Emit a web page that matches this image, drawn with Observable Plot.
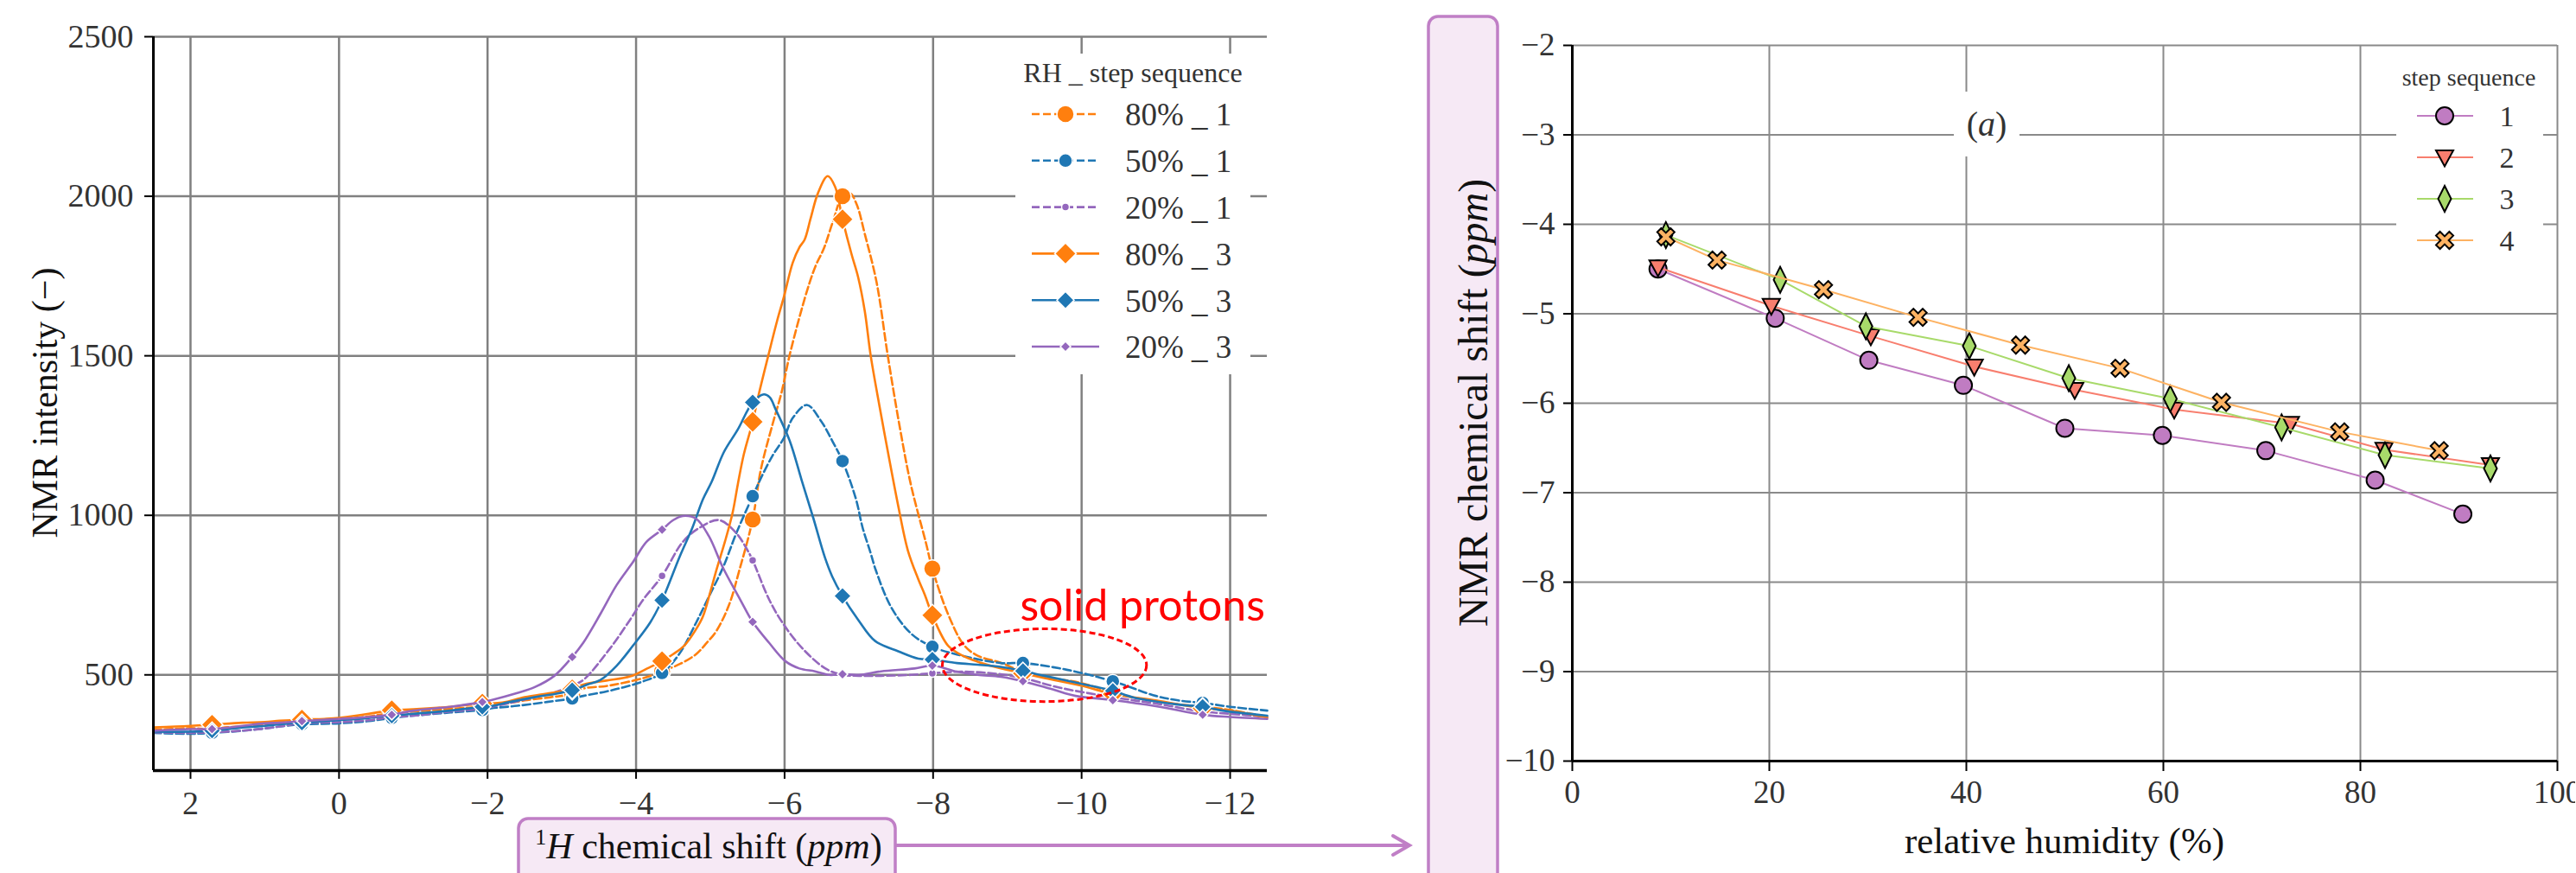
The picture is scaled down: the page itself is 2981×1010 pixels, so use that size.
<!DOCTYPE html>
<html><head><meta charset="utf-8">
<script src="https://cdn.jsdelivr.net/npm/d3@7"></script>
<script src="https://cdn.jsdelivr.net/npm/@observablehq/plot@0.6"></script>
<style>
html,body{margin:0;padding:0;background:#fff;overflow:hidden;}
#wrap{position:relative;width:2981px;height:1010px;overflow:hidden;background:#fff;}
#wrap > svg{position:absolute;}
</style></head><body><div id="wrap"></div>
<script>
// ---------------- LEFT CHART DATA (1H chemical shift in ppm, NMR intensity) ----------------
const shiftTicks = [2, 0, -2, -4, -6, -8, -10, -12];
const intensityTicks = [500, 1000, 1500, 2000, 2500];
const markerShift = [1.71, 0.50, -0.71, -1.93, -3.14, -4.35, -5.57, -6.78, -7.99, -9.21, -10.42, -11.63];

const s80_1 = [[2.5,328],[2.2,331],[2.0,333],[1.5,336],[1.3,338],[1.0,345],[0.8,350],[0.2,357],[0,360],[-0.4,370],[-1.0,385],[-1.3,390],[-1.6,395],[-2.2,408],[-2.5,420],[-2.85,430],[-3.29,457],[-3.6,465],[-3.83,475],[-4.1,490],[-4.59,534],[-4.81,565],[-4.95,600],[-5.08,637],[-5.25,718],[-5.39,827],[-5.68,1143],[-5.84,1287],[-5.96,1386],[-6.07,1504],[-6.30,1702],[-6.42,1783],[-6.53,1837],[-6.65,1920],[-6.88,2010],[-6.97,1975],[-7.08,1882],[-7.24,1729],[-7.39,1500],[-7.55,1278],[-7.70,1097],[-7.90,917],[-8.2,691],[-8.42,592],[-8.6,560],[-8.91,538],[-9.6,490],[-9.98,475],[-10.7,429],[-11.2,410],[-12.0,390],[-12.5,368]];
const m80_1 = [330, 355, 380, 400, 440, 511, 987, 2000, 833, 510, 445, 400];

const s50_1 = [[2.5,318],[2.0,315],[1.3,325],[1.0,332],[0.8,338],[0,348],[-0.4,355],[-1.0,372],[-1.5,382],[-2.05,395],[-2.4,403],[-2.8,415],[-3.29,434],[-3.6,448],[-3.83,461],[-4.1,480],[-4.58,565],[-4.81,664],[-4.98,745],[-5.17,836],[-5.35,944],[-5.68,1116],[-5.84,1188],[-5.99,1242],[-6.11,1305],[-6.30,1346],[-6.49,1296],[-6.65,1230],[-6.96,1052],[-7.05,962],[-7.16,881],[-7.23,827],[-7.44,710],[-7.71,628],[-8.32,564],[-8.91,537],[-9.8,516],[-11.0,434],[-11.3,420],[-12.0,400],[-12.5,388]];
const m50_1 = [318, 345, 365, 390, 426, 506, 1060, 1170, 588, 537, 480, 412];

const s20_1 = [[2.5,320],[2.0,318],[1.3,325],[1.0,332],[0.8,338],[0,352],[-0.4,358],[-1.0,372],[-1.5,385],[-2.3,412],[-2.63,430],[-2.9,445],[-3.29,484],[-3.65,583],[-3.92,673],[-4.10,737],[-4.63,917],[-4.86,962],[-5.12,985],[-5.35,944],[-5.48,899],[-5.79,737],[-5.97,664],[-6.24,583],[-6.55,520],[-7.0,497],[-7.30,497],[-7.7,500],[-8.4,510],[-8.91,502],[-9.7,460],[-11.0,410],[-12.0,378],[-12.5,368]];
const m20_1 = [320, 348, 368, 395, 466, 810, 859, 500, 505, 490, 430, 385];

const s80_3 = [[2.5,335],[2.2,338],[2.0,340],[1.3,350],[1.0,352],[0.8,356],[0.2,362],[0,365],[-0.4,378],[-1.0,392],[-1.5,400],[-2.2,413],[-2.5,430],[-2.85,443],[-3.3,470],[-3.6,482],[-3.92,495],[-4.15,520],[-4.5,565],[-4.65,592],[-4.8,640],[-4.9,683],[-5.0,760],[-5.08,827],[-5.2,920],[-5.3,1008],[-5.37,1097],[-5.45,1190],[-5.65,1377],[-5.78,1500],[-5.9,1610],[-5.99,1684],[-6.11,1792],[-6.2,1840],[-6.27,1864],[-6.35,1930],[-6.45,2010],[-6.58,2063],[-6.68,2030],[-6.9,1820],[-6.99,1747],[-7.08,1640],[-7.16,1500],[-7.28,1340],[-7.40,1188],[-7.53,1030],[-7.66,890],[-7.8,800],[-7.89,750],[-8.2,592],[-8.4,560],[-8.64,538],[-8.9,521],[-9.5,490],[-10.0,466],[-11.0,420],[-12.0,388],[-12.5,366]];
const m80_3 = [344, 360, 389, 410, 455, 543, 1293, 1928, 687, 505, 440, 395];

const s50_3 = [[2.5,322],[2.0,322],[1.3,335],[1.0,340],[0.8,345],[0,358],[-0.4,365],[-1.0,378],[-1.5,388],[-2.05,402],[-2.3,415],[-2.63,430],[-2.9,440],[-3.35,470],[-3.52,484],[-3.74,529],[-3.96,592],[-4.19,664],[-4.59,872],[-4.76,962],[-4.90,1050],[-5.02,1106],[-5.18,1197],[-5.37,1269],[-5.72,1379],[-5.8,1370],[-5.88,1332],[-6.07,1233],[-6.23,1110],[-6.39,989],[-6.54,870],[-6.64,809],[-6.99,673],[-7.22,606],[-7.53,574],[-7.80,551],[-8.32,537],[-8.6,532],[-8.91,525],[-9.5,497],[-10.1,467],[-10.7,429],[-11.3,407],[-11.9,388],[-12.5,372]];
const m50_3 = [325, 350, 372, 400, 452, 734, 1354, 747, 548, 512, 450, 400];

const s20_3 = [[2.5,325],[2.0,330],[1.3,340],[1.0,348],[0.8,350],[0,362],[-0.4,368],[-1.0,388],[-1.5,400],[-2.05,421],[-2.4,443],[-2.63,461],[-2.90,497],[-3.29,601],[-3.52,691],[-3.74,782],[-3.96,854],[-4.14,917],[-4.5,985],[-4.63,998],[-4.81,989],[-4.98,935],[-5.17,836],[-5.40,737],[-5.79,601],[-6.01,543],[-6.2,520],[-6.41,511],[-6.6,500],[-7.0,500],[-7.30,511],[-7.75,520],[-8.32,510],[-8.6,500],[-8.91,494],[-9.6,455],[-9.92,434],[-11.0,402],[-12.0,368],[-12.5,362]];
const m20_3 = [330, 355, 375, 415, 556, 955, 666, 502, 529, 480, 421, 375];

// annotation (data coordinates)
const solidLabel = [{shift: -10.82, intensity: 670, text: "solid protons"}];
const solidEllipse = {shift: -9.505, intensity: 529, halfShift: 1.375, halfIntensity: 114};

// ---------------- RIGHT CHART DATA (relative humidity %, NMR chemical shift ppm) ----------------
const rhTicks = [0, 20, 40, 60, 80, 100];
const nmrTicks = [-2, -3, -4, -5, -6, -7, -8, -9, -10];
const rh1 = [8.7, 20.6, 30.1, 39.7, 50.0, 59.9, 70.4, 81.5, 90.4];
const ns1 = [-4.50, -5.05, -5.52, -5.80, -6.28, -6.36, -6.53, -6.86, -7.24];
const rh2 = [8.7, 20.2, 30.3, 40.8, 51.0, 61.1, 72.9, 82.4, 93.2];
const ns2 = [-4.48, -4.91, -5.25, -5.59, -5.85, -6.07, -6.23, -6.52, -6.69];
const rh3 = [9.5, 21.1, 29.8, 40.3, 50.4, 60.7, 72.0, 82.5, 93.2];
const ns3 = [-4.12, -4.62, -5.14, -5.36, -5.72, -5.95, -6.27, -6.58, -6.73];
const rh4 = [9.5, 14.7, 25.5, 35.1, 45.5, 55.6, 65.9, 77.9, 88.0];
const ns4 = [-4.14, -4.40, -4.73, -5.04, -5.35, -5.61, -5.99, -6.32, -6.53];

// ---------------- symbols ----------------
const rOf = size => Math.sqrt(size / Math.PI);
const symDiamondSq = {draw(c, size){const r = rOf(size); c.moveTo(0,-r); c.lineTo(r,0); c.lineTo(0,r); c.lineTo(-r,0); c.closePath();}};
const symThinDiamond = {draw(c, size){const r = rOf(size); c.moveTo(0,-1.5*r); c.lineTo(0.75*r,0); c.lineTo(0,1.5*r); c.lineTo(-0.75*r,0); c.closePath();}};
const symTriDown = {draw(c, size){const r = rOf(size); c.moveTo(-r,-0.8*r); c.lineTo(r,-0.8*r); c.lineTo(0,1.05*r); c.closePath();}};
const symX = {draw(c, size){
  const r = rOf(size), L = r*Math.SQRT2/1.3, w = 0.3*L;
  const p = [[-w,-L],[w,-L],[w,-w],[L,-w],[L,w],[w,w],[w,L],[-w,L],[-w,w],[-L,w],[-L,-w],[-w,-w]]
    .map(([x,y]) => [(x-y)/Math.SQRT2, (x+y)/Math.SQRT2]);
  c.moveTo(p[0][0], p[0][1]); for (let i = 1; i < p.length; i++) c.lineTo(p[i][0], p[i][1]); c.closePath();
}};

const fmt = d => d < 0 ? "\u2212" + Math.abs(d) : String(d);
const SERIF = "Liberation Serif";

// ---------------- LEFT PLOT ----------------
const ORANGE = "#ff7f0e", BLUE = "#1f77b4", PURPLE = "#9467bd";
const leftSeries = [
  {key: "80% _ 1", samples: s80_1, mk: m80_1, color: ORANGE, dash: "9,4", sym: "circle", r: 10},
  {key: "50% _ 1", samples: s50_1, mk: m50_1, color: BLUE, dash: "9,4", sym: "circle", r: 8},
  {key: "20% _ 1", samples: s20_1, mk: m20_1, color: PURPLE, dash: "9,4", sym: "circle", r: 4.5},
  {key: "80% _ 3", samples: s80_3, mk: m80_3, color: ORANGE, dash: null, sym: symDiamondSq, r: 12.5},
  {key: "50% _ 3", samples: s50_3, mk: m50_3, color: BLUE, dash: null, sym: symDiamondSq, r: 10},
  {key: "20% _ 3", samples: s20_3, mk: m20_3, color: PURPLE, dash: null, sym: symDiamondSq, r: 6}
];
leftSeries.forEach(S => {
  S.markers = markerShift.map((s, i) => ({s, v: S.mk[i]}));
  S.pts = S.samples.map(([s, v]) => ({s, v})).concat(S.markers).sort((a, b) => b.s - a.s);
});

const leftMarks = [
  Plot.gridX(shiftTicks, {stroke: "#808080", strokeOpacity: 1, strokeWidth: 2.5}),
  Plot.gridY(intensityTicks, {stroke: "#808080", strokeOpacity: 1, strokeWidth: 2.5})
];
leftSeries.forEach(S => {
  leftMarks.push(Plot.line(S.pts, {x: "s", y: "v", stroke: S.color, strokeWidth: 2.6, strokeDasharray: S.dash || undefined, curve: "catmull-rom"}));
  leftMarks.push(Plot.dot(S.markers, {x: "s", y: "v", r: S.r, symbol: S.sym, fill: S.color, stroke: "white", strokeWidth: 1.5}));
});
leftMarks.push(
  Plot.ruleX([2.5], {stroke: "black", strokeWidth: 3}),
  Plot.ruleY([200], {stroke: "black", strokeWidth: 3.5}),
  Plot.axisX(shiftTicks, {tickSize: 10, tickPadding: 14, tickFormat: fmt, label: null, stroke: "black", strokeWidth: 2, fill: "#333", fontSize: 38, fontFamily: SERIF}),
  Plot.axisY(intensityTicks, {tickSize: 10, tickPadding: 13, tickFormat: fmt, label: null, stroke: "black", strokeWidth: 2, fill: "#333", fontSize: 38, fontFamily: SERIF}),
  Plot.text(solidLabel, {x: "shift", y: "intensity", text: "text", fill: "#ff0000", fontSize: 50, fontFamily: "Lato", textAnchor: "middle", lineAnchor: "bottom"})
);

const left = Plot.plot({
  width: 1500, height: 1010,
  marginLeft: 177, marginRight: 34, marginTop: 42, marginBottom: 119,
  x: {domain: [2.5, -12.5]},
  y: {domain: [200, 2500]},
  style: {fontFamily: SERIF, fontSize: "38px", background: "transparent"},
  marks: leftMarks
});
left.style.left = "0px"; left.style.top = "0px";
document.getElementById("wrap").appendChild(left);
d3.select(left).selectAll('g[aria-label$="tick label"]').attr("font-family", SERIF).selectAll("text").attr("font-family", SERIF);

// ellipse around the solid protons region, placed with the plot's own scales
{
  const sx = left.scale("x"), sy = left.scale("y");
  const cx = sx.apply(solidEllipse.shift), cy = sy.apply(solidEllipse.intensity);
  const rx = Math.abs(sx.apply(solidEllipse.shift + solidEllipse.halfShift) - cx);
  const ry = Math.abs(sy.apply(solidEllipse.intensity + solidEllipse.halfIntensity) - cy);
  d3.select(left).append("ellipse").attr("cx", cx).attr("cy", cy).attr("rx", rx).attr("ry", ry)
    .attr("fill", "none").attr("stroke", "#ff0000").attr("stroke-width", 3).attr("stroke-dasharray", "7,4");
}

// ---------------- RIGHT PLOT ----------------
const rightSeries = [
  {key: "1", x: rh1, y: ns1, color: "#c07cc2", sym: "circle", r: 10},
  {key: "2", x: rh2, y: ns2, color: "#f87e6e", sym: symTriDown, r: 10},
  {key: "3", x: rh3, y: ns3, color: "#a8da6a", sym: symThinDiamond, r: 10},
  {key: "4", x: rh4, y: ns4, color: "#fdb262", sym: symX, r: 10}
];
const rightMarks = [
  Plot.gridX(rhTicks, {stroke: "#8a8a8a", strokeOpacity: 1, strokeWidth: 2}),
  Plot.gridY(nmrTicks, {stroke: "#8a8a8a", strokeOpacity: 1, strokeWidth: 2})
];
rightSeries.forEach(S => {
  const pts = S.x.map((x, i) => ({x, y: S.y[i]}));
  rightMarks.push(Plot.line(pts, {x: "x", y: "y", stroke: S.color, strokeWidth: 2}));
  rightMarks.push(Plot.dot(pts, {x: "x", y: "y", r: S.r, symbol: S.sym, fill: S.color, stroke: "black", strokeWidth: 2}));
});
rightMarks.push(
  Plot.ruleX([0], {stroke: "black", strokeWidth: 3}),
  Plot.ruleY([-10], {stroke: "black", strokeWidth: 3}),
  Plot.axisX(rhTicks, {tickSize: 12, tickPadding: 10, tickFormat: fmt, label: null, stroke: "black", strokeWidth: 2, fill: "#333", fontSize: 37, fontFamily: SERIF}),
  Plot.axisY(nmrTicks, {tickSize: 10, tickPadding: 10, tickFormat: fmt, label: null, stroke: "black", strokeWidth: 2, fill: "#333", fontSize: 37, fontFamily: SERIF})
);
const right = Plot.plot({
  width: 1240, height: 1010,
  marginLeft: 79, marginRight: 21, marginTop: 52, marginBottom: 130,
  x: {domain: [0, 100]},
  y: {domain: [-10, -2]},
  style: {fontFamily: SERIF, fontSize: "37px", background: "transparent"},
  marks: rightMarks
});
right.style.left = "1740px"; right.style.top = "0px";
document.getElementById("wrap").appendChild(right);
d3.select(right).selectAll('g[aria-label$="tick label"]').attr("font-family", SERIF).selectAll("text").attr("font-family", SERIF);

// ---------------- OVERLAY: labels, legends, boxes, arrow ----------------
const ov = d3.select("#wrap").append("svg").attr("width", 2981).attr("height", 1010)
  .style("left", "0px").style("top", "0px").style("font-family", SERIF);
const BOX_STROKE = "#c07fc6", BOX_FILL = "#f6e9f5";

// left y label
ov.append("text").attr("transform", "translate(66,466) rotate(-90)").attr("text-anchor", "middle")
  .attr("font-size", 42).attr("fill", "#111").text("NMR intensity (\u2212)");

// left x label box
ov.append("rect").attr("x", 600).attr("y", 947).attr("width", 436).attr("height", 100).attr("rx", 11)
  .attr("fill", BOX_FILL).attr("stroke", BOX_STROKE).attr("stroke-width", 3.5);
{
  const t = ov.append("text").attr("x", 820).attr("y", 993).attr("text-anchor", "middle").attr("font-size", 42).attr("fill", "#111");
  t.append("tspan").attr("font-size", 26).attr("dy", -16).text("1");
  t.append("tspan").attr("font-style", "italic").attr("dy", 16).text("H");
  t.append("tspan").text(" chemical shift (");
  t.append("tspan").attr("font-style", "italic").text("ppm");
  t.append("tspan").text(")");
}

// arrow
ov.append("line").attr("x1", 1036).attr("y1", 978).attr("x2", 1630).attr("y2", 978).attr("stroke", BOX_STROKE).attr("stroke-width", 4);
ov.append("path").attr("d", "M1612,967 L1631,978 L1612,989").attr("fill", "none").attr("stroke", BOX_STROKE).attr("stroke-width", 4).attr("stroke-linecap", "round");

// right y label box
ov.append("rect").attr("x", 1653).attr("y", 19).attr("width", 80).attr("height", 1100).attr("rx", 11)
  .attr("fill", BOX_FILL).attr("stroke", BOX_STROKE).attr("stroke-width", 3.5);
{
  const t = ov.append("text").attr("transform", "translate(1721,466) rotate(-90)").attr("text-anchor", "middle")
    .attr("font-size", 48).attr("fill", "#111");
  t.append("tspan").text("NMR chemical shift (");
  t.append("tspan").attr("font-style", "italic").text("ppm");
  t.append("tspan").text(")");
}

// right x label
ov.append("text").attr("x", 2389).attr("y", 987).attr("text-anchor", "middle").attr("font-size", 43).attr("fill", "#111")
  .text("relative humidity (%)");

// (a) label
ov.append("rect").attr("x", 2261).attr("y", 106).attr("width", 76).attr("height", 75).attr("fill", "white");
{
  const t = ov.append("text").attr("x", 2299).attr("y", 157).attr("text-anchor", "middle").attr("font-size", 40).attr("fill", "#333");
  t.append("tspan").text("(");
  t.append("tspan").attr("font-style", "italic").text("a");
  t.append("tspan").text(")");
}

// left legend
ov.append("rect").attr("x", 1175).attr("y", 62).attr("width", 272).attr("height", 371).attr("fill", "white");
ov.append("text").attr("x", 1311).attr("y", 95).attr("text-anchor", "middle").attr("font-size", 32).attr("fill", "#333").text("RH _ step sequence");
leftSeries.forEach((S, i) => {
  const y = 132 + i * 53.8;
  ov.append("line").attr("x1", 1194).attr("x2", 1272).attr("y1", y).attr("y2", y)
    .attr("stroke", S.color).attr("stroke-width", 2.6).attr("stroke-dasharray", S.dash);
  const symType = S.sym === "circle" ? d3.symbolCircle : S.sym;
  ov.append("path").attr("d", d3.symbol().type(symType).size(Math.PI * S.r * S.r)())
    .attr("transform", `translate(1233,${y})`).attr("fill", S.color).attr("stroke", "white").attr("stroke-width", 1.5);
  ov.append("text").attr("x", 1302).attr("y", y).attr("dy", "0.36em").attr("font-size", 37).attr("fill", "#333").text(S.key);
});

// right legend
ov.append("rect").attr("x", 2773).attr("y", 60).attr("width", 170).attr("height", 245).attr("fill", "white");
ov.append("text").attr("x", 2857).attr("y", 99).attr("text-anchor", "middle").attr("font-size", 28).attr("fill", "#333").text("step sequence");
rightSeries.forEach((S, i) => {
  const y = 134 + i * 48;
  ov.append("line").attr("x1", 2797).attr("x2", 2862).attr("y1", y).attr("y2", y).attr("stroke", S.color).attr("stroke-width", 2);
  const symType = S.sym === "circle" ? d3.symbolCircle : S.sym;
  ov.append("path").attr("d", d3.symbol().type(symType).size(Math.PI * S.r * S.r)())
    .attr("transform", `translate(2829,${y})`).attr("fill", S.color).attr("stroke", "black").attr("stroke-width", 2);
  ov.append("text").attr("x", 2901).attr("y", y).attr("dy", "0.35em").attr("text-anchor", "middle").attr("font-size", 34).attr("fill", "#333").text(S.key);
});
</script></body></html>
